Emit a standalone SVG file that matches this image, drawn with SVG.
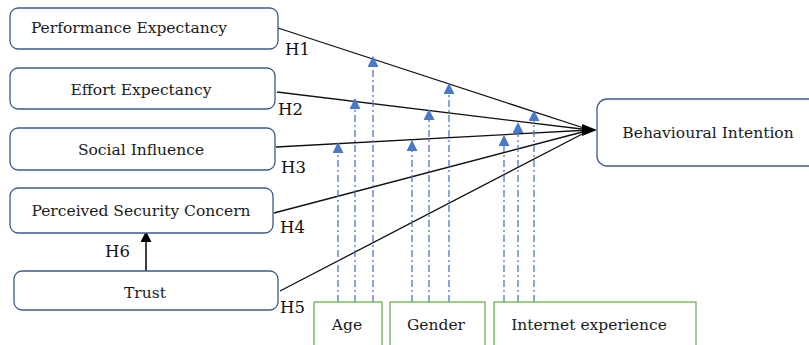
<svg xmlns="http://www.w3.org/2000/svg" width="809" height="345" viewBox="0 0 809 345">
<defs>
<style>
.box{fill:#fff;stroke:#3c5a8c;stroke-width:1.3}
.mod{fill:#fff;stroke:#6cb44c;stroke-width:1.3}
.t{font-family:"DejaVu Serif","Liberation Serif",serif;font-size:15.5px;fill:#1a1a1a;text-anchor:middle}
.h{font-family:"DejaVu Serif","Liberation Serif",serif;font-size:16.5px;fill:#111}
.path{stroke:#111;stroke-width:1.3;fill:none}
.mline{stroke:#4a78cc;stroke-width:1.3;stroke-dasharray:7 3 2 3;fill:none}
</style>
<marker id="ba" viewBox="0 0 10 10" refX="9" refY="5" markerWidth="12" markerHeight="11" markerUnits="userSpaceOnUse" orient="auto">
<path d="M0,0 L10,5 L0,10 z" fill="#4a78cc"/>
</marker>
<marker id="ka" viewBox="0 0 10 10" refX="9" refY="5" markerWidth="12" markerHeight="11" markerUnits="userSpaceOnUse" orient="auto">
<path d="M0,0 L10,5 L0,10 z" fill="#000"/>
</marker>
</defs>
<g id="connectors">
<line class="path" x1="278" y1="28" x2="590" y2="130"/>
<line class="path" x1="277" y1="92" x2="590" y2="130"/>
<line class="path" x1="276" y1="147" x2="590" y2="130"/>
<line class="path" x1="274" y1="213" x2="590" y2="130"/>
<line class="path" x1="280" y1="291" x2="590" y2="130"/>
<path d="M582,124 L597,130 L582,136 z" fill="#000"/>
<line x1="146" y1="271" x2="146" y2="232" stroke="#000" stroke-width="1.5" marker-end="url(#ka)"/>
<line class="mline" x1="338" y1="302" x2="338" y2="143" marker-end="url(#ba)"/>
<line class="mline" x1="355" y1="302" x2="355" y2="99" marker-end="url(#ba)"/>
<line class="mline" x1="373" y1="302" x2="373" y2="57" marker-end="url(#ba)"/>
<line class="mline" x1="412" y1="302" x2="412" y2="141" marker-end="url(#ba)"/>
<line class="mline" x1="429" y1="302" x2="429" y2="110" marker-end="url(#ba)"/>
<line class="mline" x1="449" y1="302" x2="449" y2="84" marker-end="url(#ba)"/>
<line class="mline" x1="504" y1="302" x2="504" y2="136" marker-end="url(#ba)"/>
<line class="mline" x1="518" y1="302" x2="518" y2="123" marker-end="url(#ba)"/>
<line class="mline" x1="534" y1="302" x2="534" y2="111" marker-end="url(#ba)"/>
<text class="h" x="285" y="55">H1</text>
<text class="h" x="278" y="115">H2</text>
<text class="h" x="281" y="173">H3</text>
<text class="h" x="280" y="233">H4</text>
<text class="h" x="280" y="313">H5</text>
<text class="h" x="105" y="257">H6</text>
</g>
<g id="pe"><rect class="box" x="10" y="8" width="268" height="41" rx="8"/><text class="t" x="129" y="33">Performance Expectancy</text></g>
<g id="ee"><rect class="box" x="10" y="68" width="265" height="41" rx="8"/><text class="t" x="141" y="95">Effort Expectancy</text></g>
<g id="si"><rect class="box" x="10" y="128" width="265" height="42" rx="8"/><text class="t" x="141" y="155">Social Influence</text></g>
<g id="psc"><rect class="box" x="10" y="188" width="263" height="45" rx="8"/><text class="t" x="141" y="216">Perceived Security Concern</text></g>
<g id="trust"><rect class="box" x="14" y="271" width="264" height="39" rx="8"/><text class="t" x="145" y="298">Trust</text></g>
<g id="bi"><rect class="box" x="597" y="99" width="230" height="67" rx="10"/><text class="t" x="708" y="138">Behavioural Intention</text></g>
<g id="age"><rect class="mod" x="314" y="302" width="68" height="50"/><text class="t" x="347" y="330">Age</text></g>
<g id="gender"><rect class="mod" x="390" y="302" width="95" height="50"/><text class="t" x="436" y="330">Gender</text></g>
<g id="internet"><rect class="mod" x="494" y="302" width="202" height="50"/><text class="t" x="589" y="330">Internet experience</text></g>
</svg>
